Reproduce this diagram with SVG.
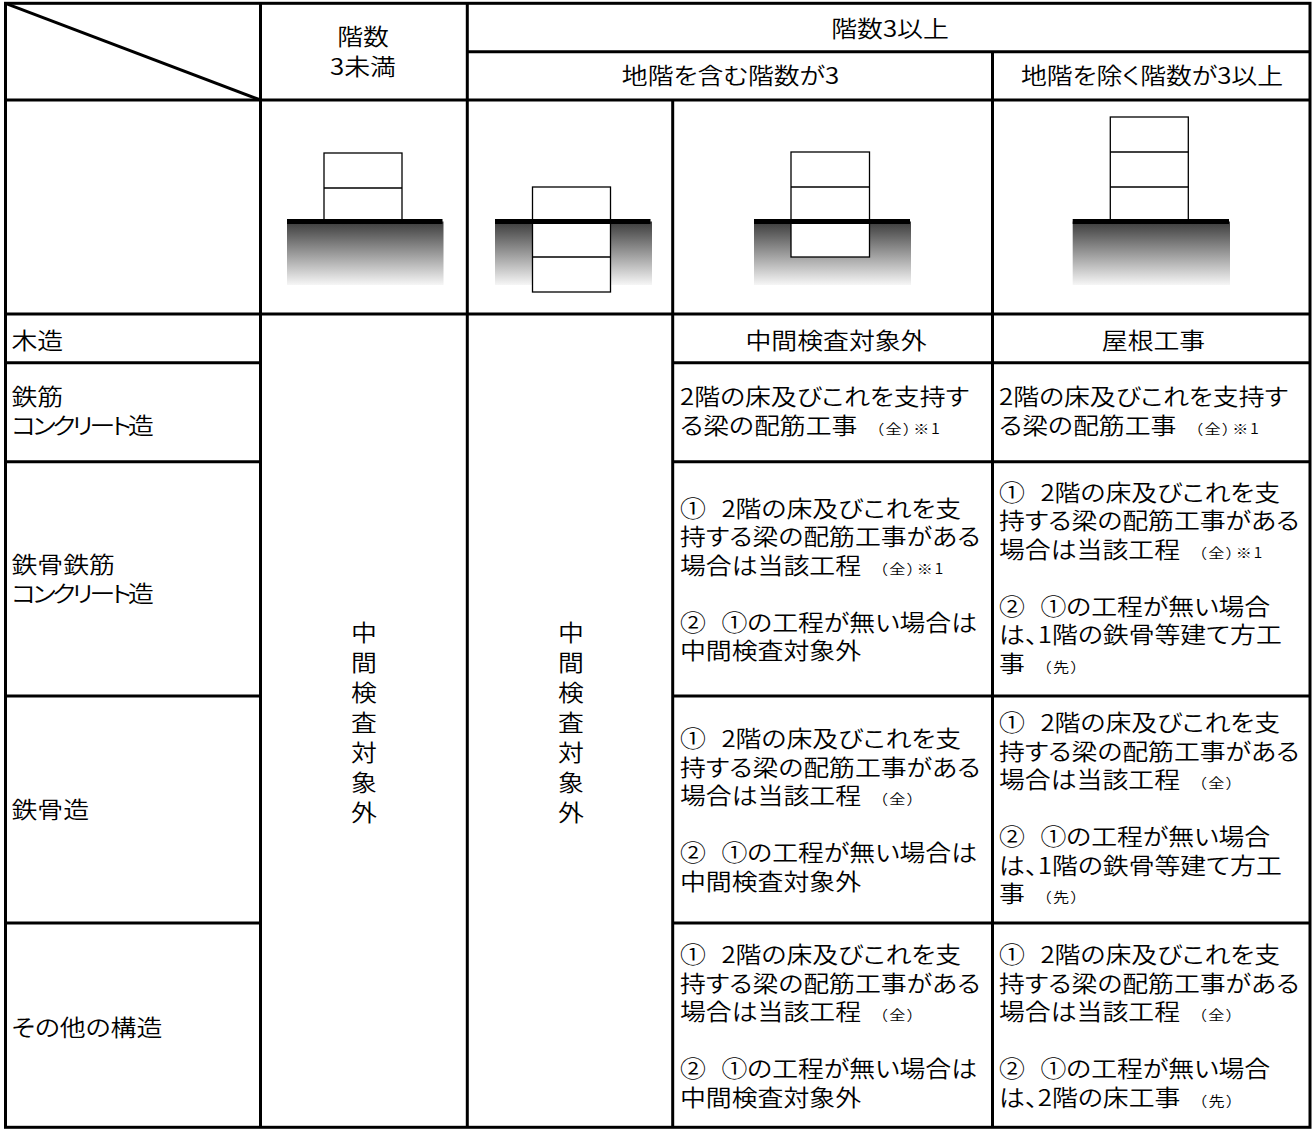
<svg xmlns="http://www.w3.org/2000/svg" width="1314" height="1129" viewBox="0 0 1314 1129">
<defs>
<style>
.t{font-family:"Noto Sans CJK JP","Noto Sans CJK SC",sans-serif;font-size:22.5px;font-weight:350;font-feature-settings:"palt" 1;fill:#000}
.m{text-anchor:middle}
.s{font-size:14px;letter-spacing:1.5px}
.nk{letter-spacing:-3px}
.ln{stroke:#000;stroke-width:3;fill:none}
.box{fill:#fff;stroke:#000;stroke-width:1.3}
.fl{stroke:#000;stroke-width:1.3;fill:none}
.bar{fill:#000}
.earth{fill:url(#earth)}
</style>
<linearGradient id="earth" x1="0" y1="0" x2="0" y2="1">
<stop offset="0" stop-color="#3c3c3c"/>
<stop offset="1" stop-color="#f6f6f6"/>
</linearGradient>
</defs>
<rect width="1314" height="1129" fill="#fff"/>

<!-- building pictures -->
<g id="pic-lt3">
<rect class="earth" x="287" y="221.5" width="156.5" height="63.5"/>
<rect class="box" x="324" y="153" width="78" height="68.5"/>
<line class="fl" x1="324" y1="188" x2="402" y2="188"/>
<rect class="bar" x="287" y="219" width="155.5" height="5"/>
</g>
<g id="pic-basement2">
<rect class="earth" x="495" y="221.5" width="157" height="63.5"/>
<rect class="box" x="532.5" y="187" width="78" height="105"/>
<line class="fl" x1="532.5" y1="257" x2="610.5" y2="257"/>
<rect class="bar" x="495" y="219" width="155.5" height="5"/>
</g>
<g id="pic-basement1">
<rect class="earth" x="754" y="221.5" width="157" height="63.5"/>
<rect class="box" x="791" y="152" width="78.5" height="105"/>
<line class="fl" x1="791" y1="187" x2="869.5" y2="187"/>
<rect class="bar" x="754" y="219" width="156" height="5"/>
</g>
<g id="pic-3above">
<rect class="earth" x="1072.7" y="221.5" width="157.3" height="63.5"/>
<rect class="box" x="1110.3" y="117" width="78" height="104.5"/>
<line class="fl" x1="1110.3" y1="152" x2="1188.3" y2="152"/>
<line class="fl" x1="1110.3" y1="187" x2="1188.3" y2="187"/>
<rect class="bar" x="1072.7" y="219" width="156.3" height="5"/>
</g>

<!-- table grid -->
<g id="grid" class="ln">
<rect x="5.5" y="3.3" width="1304.5" height="1124"/>
<line x1="5.5" y1="3.3" x2="260.5" y2="100"/>
<line x1="260.5" y1="3.3" x2="260.5" y2="1127.3"/>
<line x1="467.3" y1="3.3" x2="467.3" y2="1127.3"/>
<line x1="672.7" y1="100" x2="672.7" y2="1127.3"/>
<line x1="992.5" y1="51.7" x2="992.5" y2="1127.3"/>
<line x1="467.3" y1="51.7" x2="1310" y2="51.7"/>
<line x1="5.5" y1="100" x2="1310" y2="100"/>
<line x1="5.5" y1="314" x2="1310" y2="314"/>
<line x1="5.5" y1="362.7" x2="260.5" y2="362.7"/>
<line x1="672.7" y1="362.7" x2="1310" y2="362.7"/>
<line x1="5.5" y1="461.7" x2="260.5" y2="461.7"/>
<line x1="672.7" y1="461.7" x2="1310" y2="461.7"/>
<line x1="5.5" y1="696" x2="260.5" y2="696"/>
<line x1="672.7" y1="696" x2="1310" y2="696"/>
<line x1="5.5" y1="923" x2="260.5" y2="923"/>
<line x1="672.7" y1="923" x2="1310" y2="923"/>
</g>

<!-- headers -->
<g id="h-lt3" class="t m" transform="matrix(1.15 0 0 1 363 0)">
<text x="0" y="45">階数</text>
<text x="0" y="75.5">3未満</text>
</g>
<g id="h-ge3" class="t m" transform="matrix(1.15 0 0 1 890 0)">
<text x="0" y="37.5">階数3以上</text>
</g>
<g id="h-incl" class="t m" transform="matrix(1.15 0 0 1 730.5 0)">
<text x="0" y="84.5">地階を含む階数が3</text>
</g>
<g id="h-excl" class="t m" transform="matrix(1.15 0 0 1 1152 0)">
<text x="0" y="84.5">地階を除く階数が3以上</text>
</g>

<!-- row labels -->
<g id="labels" class="t" transform="matrix(1.15 0 0 1 11.5 0)">
<text x="0" y="349.5">木造</text>
<text x="0" y="405">鉄筋</text>
<text x="0" y="434" class="nk">コンクリート造</text>
<text x="0" y="573.5">鉄骨鉄筋</text>
<text x="0" y="602" class="nk">コンクリート造</text>
<text x="0" y="818.5">鉄骨造</text>
<text x="0" y="1036.5">その他の構造</text>
</g>

<!-- vertical merged cells -->
<g id="col-lt3" class="t m" transform="matrix(1.15 0 0 1 364 0)">
<text><tspan x="0" y="641.5">中</tspan><tspan x="0" y="671.5">間</tspan><tspan x="0" y="701.5">検</tspan><tspan x="0" y="731.5">査</tspan><tspan x="0" y="761.5">対</tspan><tspan x="0" y="791.5">象</tspan><tspan x="0" y="821.5">外</tspan></text>
</g>
<g id="col-incl-a" class="t m" transform="matrix(1.15 0 0 1 571 0)">
<text><tspan x="0" y="641.5">中</tspan><tspan x="0" y="671.5">間</tspan><tspan x="0" y="701.5">検</tspan><tspan x="0" y="731.5">査</tspan><tspan x="0" y="761.5">対</tspan><tspan x="0" y="791.5">象</tspan><tspan x="0" y="821.5">外</tspan></text>
</g>

<!-- column: 地階を含む階数が3 (right sub-column) -->
<g id="c4-wood" class="t m" transform="matrix(1.15 0 0 1 836 0)">
<text x="0" y="349.5">中間検査対象外</text>
</g>
<g id="c4-rc" class="t" transform="matrix(1.15 0 0 1 680 0)">
<text x="0" y="405">2階の床及びこれを支持す</text>
<text x="0" y="434">る梁の配筋工事<tspan class="s" dx="16">（全）※1</tspan></text>
</g>
<g id="c4-src" class="t" transform="matrix(1.15 0 0 1 680 0)">
<text x="0" y="517">①<tspan x="36">2階の床及びこれを支</tspan></text>
<text x="0" y="545.5">持する梁の配筋工事がある</text>
<text x="0" y="574">場合は当該工程<tspan class="s" dx="16">（全）※1</tspan></text>
<text x="0" y="631">②<tspan x="36">①の工程が無い場合は</tspan></text>
<text x="0" y="659.5">中間検査対象外</text>
</g>
<g id="c4-s" class="t" transform="matrix(1.15 0 0 1 680 0)">
<text x="0" y="747.5">①<tspan x="36">2階の床及びこれを支</tspan></text>
<text x="0" y="776">持する梁の配筋工事がある</text>
<text x="0" y="804.5">場合は当該工程<tspan class="s" dx="16">（全）</tspan></text>
<text x="0" y="861.5">②<tspan x="36">①の工程が無い場合は</tspan></text>
<text x="0" y="890">中間検査対象外</text>
</g>
<g id="c4-other" class="t" transform="matrix(1.15 0 0 1 680 0)">
<text x="0" y="963.5">①<tspan x="36">2階の床及びこれを支</tspan></text>
<text x="0" y="992">持する梁の配筋工事がある</text>
<text x="0" y="1020.5">場合は当該工程<tspan class="s" dx="16">（全）</tspan></text>
<text x="0" y="1077.5">②<tspan x="36">①の工程が無い場合は</tspan></text>
<text x="0" y="1106">中間検査対象外</text>
</g>

<!-- column: 地階を除く階数が3以上 -->
<g id="c5-wood" class="t m" transform="matrix(1.15 0 0 1 1153.5 0)">
<text x="0" y="349.5">屋根工事</text>
</g>
<g id="c5-rc" class="t" transform="matrix(1.15 0 0 1 999 0)">
<text x="0" y="405">2階の床及びこれを支持す</text>
<text x="0" y="434">る梁の配筋工事<tspan class="s" dx="16">（全）※1</tspan></text>
</g>
<g id="c5-src" class="t" transform="matrix(1.15 0 0 1 999 0)">
<text x="0" y="501">①<tspan x="36">2階の床及びこれを支</tspan></text>
<text x="0" y="529.5">持する梁の配筋工事がある</text>
<text x="0" y="558">場合は当該工程<tspan class="s" dx="16">（全）※1</tspan></text>
<text x="0" y="615">②<tspan x="36">①の工程が無い場合</tspan></text>
<text x="0" y="643.5">は、1階の鉄骨等建て方工</text>
<text x="0" y="672">事<tspan class="s" dx="16">（先）</tspan></text>
</g>
<g id="c5-s" class="t" transform="matrix(1.15 0 0 1 999 0)">
<text x="0" y="731.5">①<tspan x="36">2階の床及びこれを支</tspan></text>
<text x="0" y="760">持する梁の配筋工事がある</text>
<text x="0" y="788.5">場合は当該工程<tspan class="s" dx="16">（全）</tspan></text>
<text x="0" y="845.5">②<tspan x="36">①の工程が無い場合</tspan></text>
<text x="0" y="874">は、1階の鉄骨等建て方工</text>
<text x="0" y="902.5">事<tspan class="s" dx="16">（先）</tspan></text>
</g>
<g id="c5-other" class="t" transform="matrix(1.15 0 0 1 999 0)">
<text x="0" y="963.5">①<tspan x="36">2階の床及びこれを支</tspan></text>
<text x="0" y="992">持する梁の配筋工事がある</text>
<text x="0" y="1020.5">場合は当該工程<tspan class="s" dx="16">（全）</tspan></text>
<text x="0" y="1077.5">②<tspan x="36">①の工程が無い場合</tspan></text>
<text x="0" y="1106">は、2階の床工事<tspan class="s" dx="16">（先）</tspan></text>
</g>
</svg>
